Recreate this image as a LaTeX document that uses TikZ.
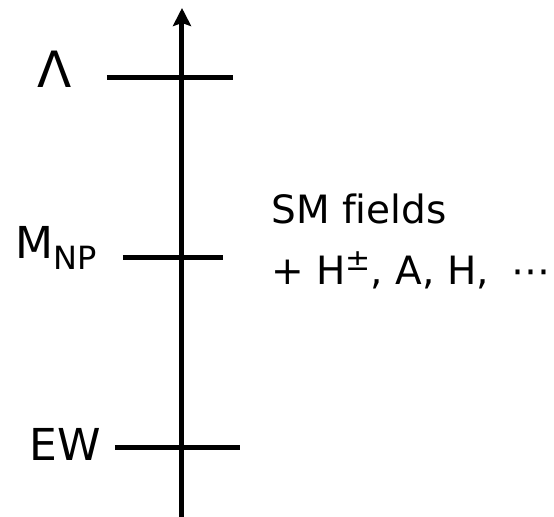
\documentclass[tikz,border=0pt]{standalone}
\usepackage{fontspec}
\setmainfont[Ligatures=NoCommon]{DejaVu Sans}
\usetikzlibrary{arrows.meta,positioning}

\begin{document}
\begin{tikzpicture}[
  x=0.5pt, y=-0.5pt,
  tick/.style={line width=2.5pt},
  axis/.style={tick, -{Stealth[length=9pt, width=9pt, inset=1.5pt]}},
  level/.style={font=\fontsize{22}{26}\selectfont, inner sep=0pt, anchor=base east},
  note/.style={font=\fontsize{19.5}{24}\selectfont, inner sep=0pt, anchor=base west}
]
\useasboundingbox (0,0) rectangle (554,517);

% energy axis
\coordinate (bot) at (182,517);
\coordinate (top) at (182,8);
\draw[axis] (bot) -- (top);

% scales
\coordinate (lamL) at (107,78);  \coordinate (lamR) at (233,78);
\coordinate (mnpL) at (123,258); \coordinate (mnpR) at (223,258);
\coordinate (ewL) at (115,448);  \coordinate (ewR) at (240,448);
\draw[tick] (lamL) -- (lamR);
\draw[tick] (mnpL) -- (mnpR);
\draw[tick] (ewL) -- (ewR);

\node[level, font=\fontsize{25}{28}\selectfont] (lam) at (72,88) {Λ};
\node[level] (mnp) at (97,259) {M\raisebox{-5.5pt}{\fontsize{16}{18}\selectfont NP}};
\node[level] (ew) at (101,461) {EW};

% content above M_NP
\node[note] (sm) at (271,224) {SM fields};
\node[note] (bsm) at (271,285) {+ H\raisebox{7pt}{\fontsize{15}{16}\selectfont ±}, A, H,\hspace{5pt} ⋯};
\end{tikzpicture}
\end{document}
